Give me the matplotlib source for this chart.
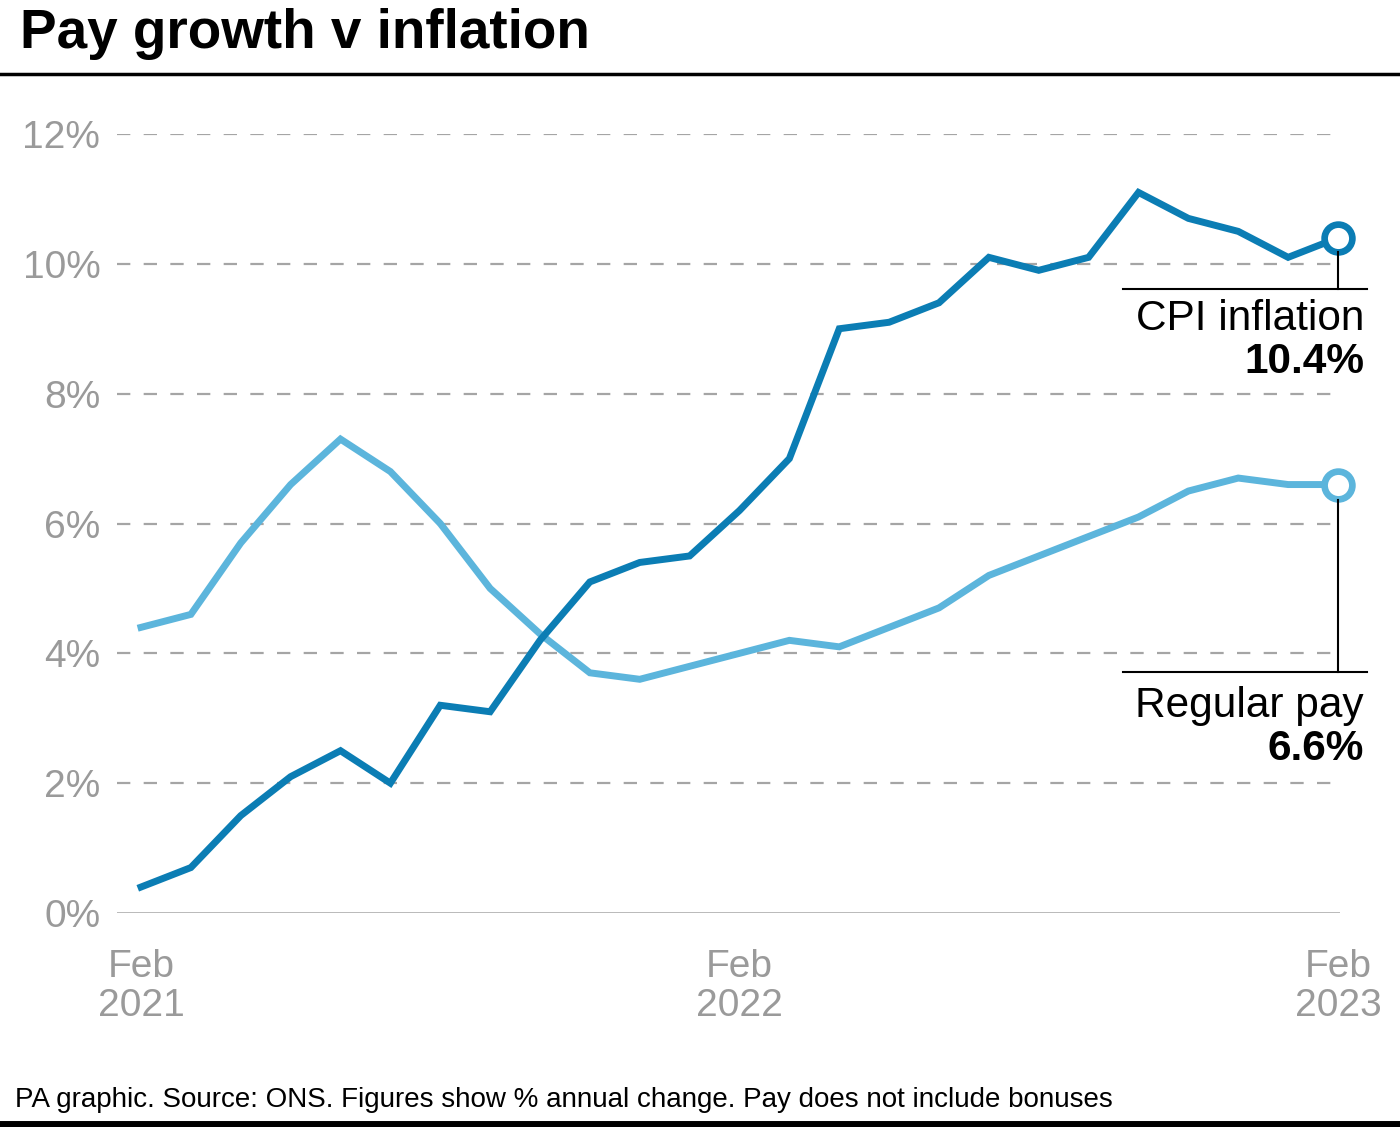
import matplotlib.pyplot as plt
import matplotlib.lines as mlines

plt.rcParams['font.family'] = ['Liberation Sans', 'DejaVu Sans']

# monthly, Feb 2021 - Feb 2023
months = list(range(25))
cpi = [0.4, 0.7, 1.5, 2.1, 2.5, 2.0, 3.2, 3.1, 4.2, 5.1, 5.4, 5.5, 6.2,
       7.0, 9.0, 9.1, 9.4, 10.1, 9.9, 10.1, 11.1, 10.7, 10.5, 10.1, 10.4]
pay = [4.4, 4.6, 5.7, 6.6, 7.3, 6.8, 6.0, 5.0, 4.3, 3.7, 3.6, 3.8, 4.0,
       4.2, 4.1, 4.4, 4.7, 5.2, 5.5, 5.8, 6.1, 6.5, 6.7, 6.6, 6.6]
x_ticks = [0, 12, 24]
x_labels = ['Feb\n2021', 'Feb\n2022', 'Feb\n2023']
y_ticks = [0, 2, 4, 6, 8, 10, 12]

CPI_COL = '#0b7db4'
PAY_COL = '#5cb5dc'
GREY = '#9a9a9a'

W, H = 1400, 1127
fig = plt.figure(figsize=(14, 11.27), dpi=100)

# axes placed in pixel terms
left, right, top, bottom = 117, 1340, 134, 913
ax = fig.add_axes([left / W, 1 - bottom / H, (right - left) / W, (bottom - top) / H])
ax.set_xlim((117 - 141) / 49.875, (1340 - 141) / 49.875)
ax.set_ylim(0, 12)

for y in y_ticks[1:]:
    ax.axhline(y, color='#a5a5a5', lw=1.6, dashes=(6, 6), zorder=1)
ax.axhline(0, color='#a5a5a5', lw=1.8, zorder=1)

ax.plot(months, pay, color=PAY_COL, lw=5, solid_joinstyle='miter', zorder=3)
ax.plot(months, cpi, color=CPI_COL, lw=5, solid_joinstyle='miter', zorder=4)
ax.plot(months[-1], pay[-1], 'o', ms=20, mfc='white', mec=PAY_COL, mew=4.8, zorder=5, clip_on=False)
ax.plot(months[-1], cpi[-1], 'o', ms=20, mfc='white', mec=CPI_COL, mew=4.8, zorder=5, clip_on=False)

for s in ax.spines.values():
    s.set_visible(False)
ax.set_yticks(y_ticks)
ax.set_yticklabels([f'{v}%' for v in y_ticks])
ax.set_xticks(x_ticks)
ax.set_xticklabels(x_labels, linespacing=1.1)
ax.tick_params(length=0, labelsize=28, colors=GREY)
ax.tick_params(axis='x', pad=26)
ax.tick_params(axis='y', pad=12)

# annotation leaders
def leader(x0, y_top, y_bot):
    fig.add_artist(mlines.Line2D([x0 / W, x0 / W], [1 - y_top / H, 1 - y_bot / H], color='black', lw=1.5))
    fig.add_artist(mlines.Line2D([1123 / W, 1367 / W], [1 - y_bot / H, 1 - y_bot / H], color='black', lw=1.5))

leader(1338, 252, 289)
leader(1338, 500, 672)
fig.text(1364 / W, 1 - 319 / H, 'CPI inflation', ha='right', va='center', fontsize=30.5)
fig.text(1364 / W, 1 - 362 / H, '10.4%', ha='right', va='center', fontsize=30.5, fontweight='bold')
fig.text(1364 / W, 1 - 706 / H, 'Regular pay', ha='right', va='center', fontsize=30.5)
fig.text(1364 / W, 1 - 749 / H, '6.6%', ha='right', va='center', fontsize=30.5, fontweight='bold')

# title and footer
fig.text(20 / W, 1 - 34 / H, 'Pay growth v inflation', ha='left', va='center', fontsize=39.5, fontweight='bold')
fig.add_artist(mlines.Line2D([0, 1], [1 - 74 / H, 1 - 74 / H], color='black', lw=2.5))
fig.text(15 / W, 1 - 1100 / H, 'PA graphic. Source: ONS. Figures show % annual change. Pay does not include bonuses',
         ha='left', va='center', fontsize=20)
fig.add_artist(mlines.Line2D([0, 1], [1 - 1124 / H, 1 - 1124 / H], color='black', lw=5))

fig.savefig('out.png', dpi=100)
